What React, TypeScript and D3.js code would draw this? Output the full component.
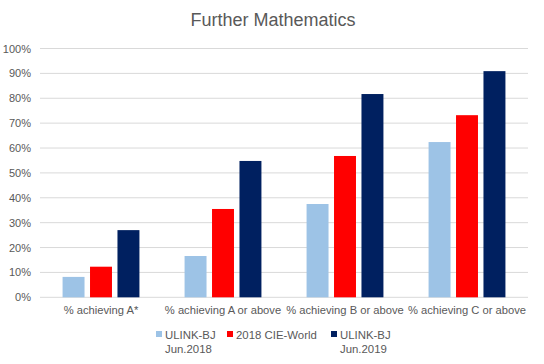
import React from "react";
import * as d3 from "d3";

const categories = ["% achieving A*", "% achieving A or above", "% achieving B or above", "% achieving C or above"];
const seriesNames = [["ULINK-BJ", "Jun.2018"], ["2018 CIE-World"], ["ULINK-BJ", "Jun.2019"]];
const seriesColors = ["#9DC3E6", "#FF0000", "#002060"];
const ulink2018 = [8.2, 16.6, 37.5, 62.4];
const cieWorld2018 = [12.3, 35.5, 56.8, 73.2];
const ulink2019 = [27.0, 54.8, 81.7, 90.9];
const yTicks = [0, 10, 20, 30, 40, 50, 60, 70, 80, 90, 100];

const W = 544, H = 364;
const left = 40, right = 528, top = 48.5, bottom = 297.3;
const font = "'Liberation Sans', Arial, sans-serif";
const textColor = "#595959";

export default function App() {
  const series = [ulink2018, cieWorld2018, ulink2019];
  const x = d3.scaleBand<string>().domain(categories).range([left, right]).paddingInner(0).paddingOuter(0);
  const y = d3.scaleLinear().domain([0, 100]).range([bottom, top]);
  const groupW = x.bandwidth() * 0.63;
  const inner = d3.scaleBand<number>().domain([0, 1, 2]).range([0, groupW]).paddingInner(0.2);
  const legendX = [156, 227, 331];

  return (
    <svg width={W} height={H} style={{ position: "absolute", left: 0, top: 0, background: "#fff" }} fontFamily={font}>
      <rect width={W} height={H} fill="#fff" />
      <text x={W / 2 + 1} y={26} textAnchor="middle" fontSize={18} fill={textColor}>Further Mathematics</text>
      {yTicks.map((t) => (
        <g key={t}>
          <line x1={left} x2={right} y1={y(t)} y2={y(t)} stroke="#D9D9D9" strokeWidth={1} />
          <text x={31} y={y(t) + 4} textAnchor="end" fontSize={11} fill={textColor}>{t}%</text>
        </g>
      ))}
      {categories.map((c, ci) => {
        const gx = (x(c) as number) + (x.bandwidth() - groupW) / 2;
        return (
          <g key={c}>
            {series.map((s, si) => (
              <rect key={si} x={gx + (inner(si) as number)} y={y(s[ci])} width={inner.bandwidth()} height={bottom - y(s[ci])} fill={seriesColors[si]} />
            ))}
            <text x={(x(c) as number) + x.bandwidth() / 2} y={314} textAnchor="middle" fontSize={11.2} fill={textColor}>{c}</text>
          </g>
        );
      })}
      {seriesNames.map((n, i) => (
        <g key={i}>
          <rect x={legendX[i]} y={331} width={6} height={6} fill={seriesColors[i]} />
          {n.map((line, li) => (
            <text key={li} x={legendX[i] + 9} y={338.5 + li * 14} fontSize={11.4} fill={textColor}>{line}</text>
          ))}
        </g>
      ))}
    </svg>
  );
}
